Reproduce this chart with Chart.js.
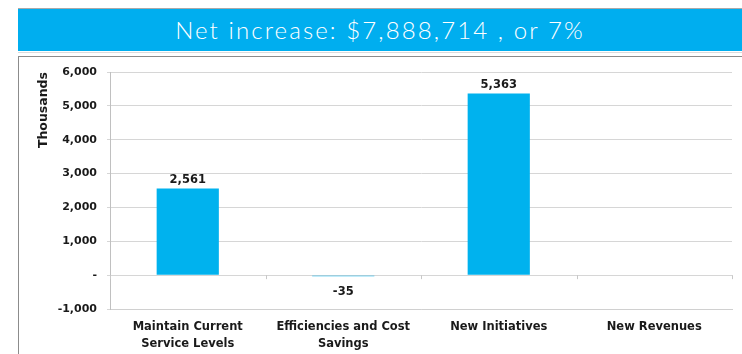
<!DOCTYPE html>
<html>
<head>
<meta charset="utf-8">
<script src="https://cdn.jsdelivr.net/npm/chart.js@4"></script>
<style>
  html, body { margin: 0; padding: 0; background: #fff; }
  body { width: 742px; height: 354px; position: relative; overflow: hidden; }
  #banner {
    position: absolute; left: 18px; top: 8px; width: 724px; height: 42px;
    background: #00AEEF; border-top: 1px solid #a9a9a9;
    color: #fff; font-family: Lato, "Open Sans", sans-serif; font-weight: 300;
    font-size: 24px; line-height: 41px; text-align: center; letter-spacing: 2.1px;
  }
  #sep { position: absolute; left: 18px; top: 52px; width: 724px; height: 1px; background: #dcdcdc; }
  #box {
    position: absolute; left: 18px; top: 56px; width: 740px; height: 320px;
    border-top: 1px solid #8c8c8c; border-left: 1px solid #8c8c8c;
  }
  #wrap { position: absolute; left: 0; top: 0; width: 742px; height: 354px; }
</style>
</head>
<body>
<div id="banner">Net increase: $7,888,714 , or 7%</div>
<div id="sep"></div>
<div id="box"></div>
<div id="wrap"><canvas id="chart" width="742" height="354"></canvas></div>
<script>
// Budget change components, in thousands of dollars
const categories = [
  ["Maintain Current", "Service Levels"],
  ["Efficiencies and Cost", "Savings"],
  "New Initiatives",
  "New Revenues"
];
const changeValues = [2561, -35, 5363, 0];
const yTickValues = [-1000, 0, 1000, 2000, 3000, 4000, 5000, 6000];

const LABEL_FONT = { family: "'DejaVu Sans', sans-serif", weight: "bold" };
const fmt = v => v === 0 ? "-" : v.toLocaleString("en-US");

// Value labels above positive bars, below negative ones
const valueLabels = {
  id: "valueLabels",
  afterDatasetsDraw(chart) {
    const ctx = chart.ctx;
    const meta = chart.getDatasetMeta(0);
    ctx.save();
    ctx.font = "bold 11.5px 'DejaVu Sans', sans-serif";
    ctx.fillStyle = "#1a1a1a";
    ctx.textAlign = "center";
    meta.data.forEach((bar, i) => {
      const v = changeValues[i];
      if (!v) return;
      if (v > 0) {
        ctx.textBaseline = "bottom";
        ctx.fillText(fmt(v), bar.x, bar.y - 3);
      } else {
        ctx.textBaseline = "top";
        ctx.fillText(fmt(v), bar.x, bar.y + 10);
      }
    });
    ctx.restore();
  }
};

// Small tick marks on the zero line between categories
const zeroTicks = {
  id: "zeroTicks",
  beforeDatasetsDraw(chart) {
    const { ctx, scales: { x, y } } = chart;
    const y0 = y.getPixelForValue(0);
    const step = x.getPixelForValue(1) - x.getPixelForValue(0);
    ctx.save();
    ctx.strokeStyle = "#c8c8c8";
    ctx.lineWidth = 1;
    for (let i = 0; i <= categories.length; i++) {
      const px = Math.round(x.getPixelForValue(i) - step / 2) + 0.5;
      ctx.beginPath();
      ctx.moveTo(px, y0);
      ctx.lineTo(px, y0 + 4);
      ctx.stroke();
    }
    ctx.restore();
  }
};

new Chart(document.getElementById("chart"), {
  type: "bar",
  data: {
    labels: categories,
    datasets: [{
      data: changeValues,
      backgroundColor: "#00B2EE",
      borderWidth: 0,
      categoryPercentage: 0.4,
      barPercentage: 1
    }]
  },
  options: {
    responsive: false,
    animation: false,
    layout: { padding: { left: 36, top: 72, right: 10, bottom: 0 } },
    plugins: { legend: { display: false }, tooltip: { enabled: false } },
    scales: {
      x: {
        grid: { display: false },
        border: { color: "#d0d0d0" },
        ticks: {
          color: "#1a1a1a", padding: 2, maxRotation: 0, autoSkip: false,
          font: { ...LABEL_FONT, size: 11.5, lineHeight: 1.45 }
        },
        afterFit(scale) { scale.height = 45; }
      },
      y: {
        min: -1000, max: 6000,
        afterBuildTicks(scale) { scale.ticks = yTickValues.map(v => ({ value: v })); },
        grid: { color: "#d6d6d6", tickLength: 3 },
        border: { color: "#c0c0c0" },
        ticks: {
          color: "#1a1a1a", padding: 10,
          font: { ...LABEL_FONT, size: 11 },
          callback: v => fmt(v)
        },
        title: {
          display: true, text: "Thousands", align: "end", color: "#1a1a1a",
          padding: { top: 0, bottom: 0 },
          font: { ...LABEL_FONT, size: 12.5 }
        },
        afterFit(scale) { scale.width = 74; }
      }
    }
  },
  plugins: [zeroTicks, valueLabels]
});
</script>
</body>
</html>
